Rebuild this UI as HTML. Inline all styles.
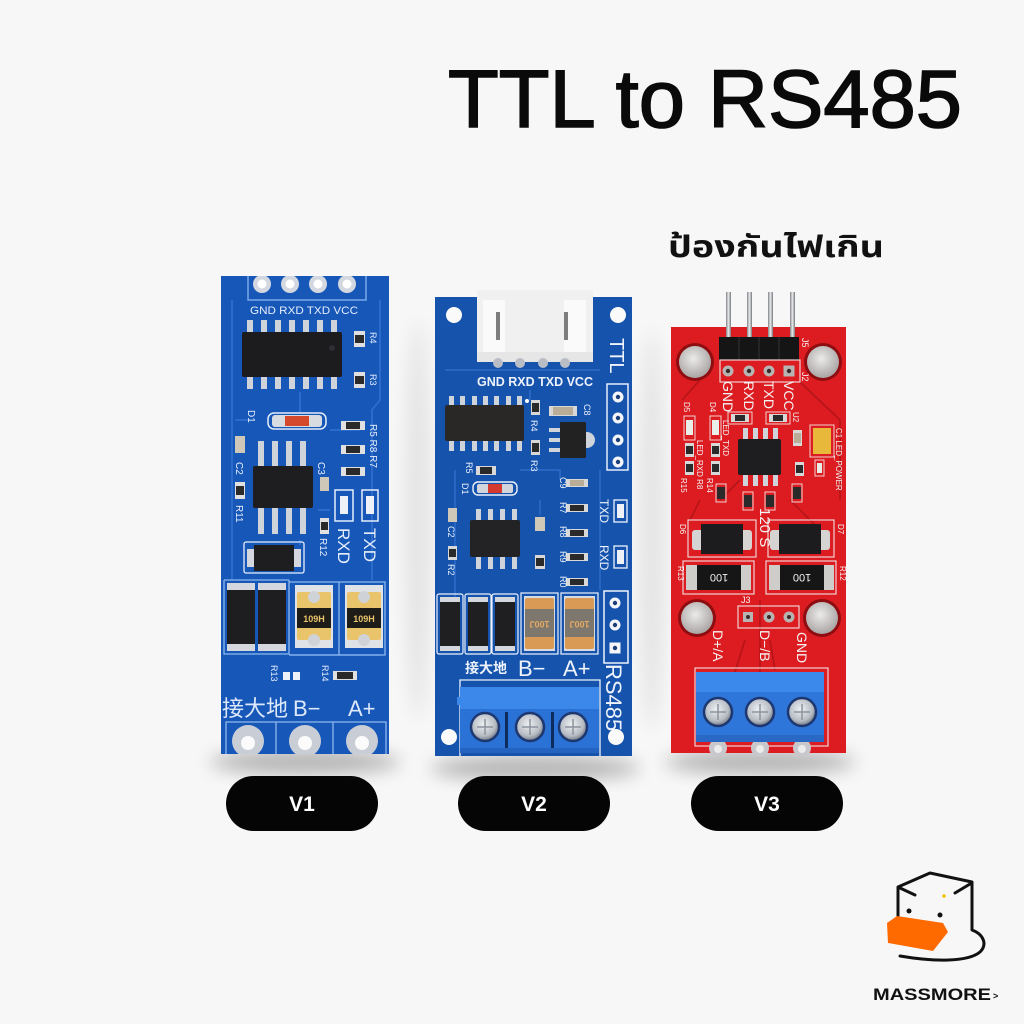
<!DOCTYPE html>
<html><head><meta charset="utf-8"><style>
html,body{margin:0;padding:0;background:#f7f7f7;}
svg{display:block;}
text{font-family:"Liberation Sans","Noto Sans CJK SC","Noto Sans Thai",sans-serif;}
</style></head><body>
<svg width="1024" height="1024" viewBox="0 0 1024 1024" xmlns="http://www.w3.org/2000/svg">
<defs>
<filter id="blur" x="-50%" y="-50%" width="200%" height="200%"><feGaussianBlur stdDeviation="9"/></filter>
<radialGradient id="silver" cx="40%" cy="35%" r="70%"><stop offset="0" stop-color="#f6f6f6"/><stop offset="1" stop-color="#a4a8ae"/></radialGradient>
<radialGradient id="screw" cx="45%" cy="40%" r="60%"><stop offset="0" stop-color="#eef0f2"/><stop offset="0.7" stop-color="#b7bcc4"/><stop offset="1" stop-color="#6f7680"/></radialGradient>
<radialGradient id="hole" cx="45%" cy="40%" r="60%"><stop offset="0" stop-color="#ecebea"/><stop offset="1" stop-color="#a9a5a4"/></radialGradient>
<linearGradient id="pin" x1="0" x2="1" y1="0" y2="0"><stop offset="0" stop-color="#7e8288"/><stop offset="0.5" stop-color="#ececec"/><stop offset="1" stop-color="#72767c"/></linearGradient>
<clipPath id="v1clip"><rect x="221" y="276" width="168" height="478"/></clipPath>
</defs>
<rect width="1024" height="1024" fill="#f7f7f7"/>

<!-- shadows -->
<ellipse cx="305" cy="762" rx="95" ry="12" fill="#000" opacity="0.28" filter="url(#blur)"/>
<ellipse cx="535" cy="768" rx="105" ry="12" fill="#000" opacity="0.28" filter="url(#blur)"/>
<ellipse cx="760" cy="762" rx="95" ry="12" fill="#000" opacity="0.28" filter="url(#blur)"/>
<ellipse cx="418" cy="520" rx="14" ry="200" fill="#000" opacity="0.07" filter="url(#blur)"/>
<ellipse cx="652" cy="530" rx="14" ry="200" fill="#000" opacity="0.07" filter="url(#blur)"/>

<!-- Title -->
<text x="448" y="127" font-size="82" fill="#0a0a0a" stroke="#0a0a0a" stroke-width="1.6" textLength="514" lengthAdjust="spacingAndGlyphs">TTL to RS485</text>
<text x="668" y="257" font-size="30" font-weight="bold" fill="#111" textLength="216" lengthAdjust="spacingAndGlyphs">ป้องกันไฟเกิน</text>

<!-- ============ V1 ============ -->
<g clip-path="url(#v1clip)">
<rect x="221" y="276" width="168" height="478" fill="#1757b8"/>
<g stroke="#2a6bcb" stroke-width="2" fill="none">
<path d="M232 300 V580"/><path d="M380 300 V400 L372 410 V580"/><path d="M300 392 V412"/>
<path d="M330 430 H360"/><path d="M250 420 H235"/><path d="M318 510 H330"/>
<path d="M300 540 V545"/><path d="M290 655 H380"/>
</g>
<path d="M248 276 V300 H366 V276" stroke="#78aaea" stroke-width="1.5" fill="none"/>
<g fill="#d3d8e0"><circle cx="262" cy="284" r="9"/><circle cx="290" cy="284" r="9"/><circle cx="318" cy="284" r="9"/><circle cx="347" cy="284" r="9"/></g>
<g fill="#fff"><circle cx="262" cy="284" r="4.5"/><circle cx="290" cy="284" r="4.5"/><circle cx="318" cy="284" r="4.5"/><circle cx="347" cy="284" r="4.5"/></g>
<text x="304" y="314" font-size="11" fill="#e6eefc" text-anchor="middle" textLength="108" lengthAdjust="spacingAndGlyphs">GND RXD TXD VCC</text>
<!-- SOIC14 -->
<g fill="#cfd3da">
<rect x="247" y="320" width="6" height="13"/><rect x="261" y="320" width="6" height="13"/><rect x="275" y="320" width="6" height="13"/><rect x="289" y="320" width="6" height="13"/><rect x="303" y="320" width="6" height="13"/><rect x="317" y="320" width="6" height="13"/><rect x="331" y="320" width="6" height="13"/>
<rect x="247" y="376" width="6" height="13"/><rect x="261" y="376" width="6" height="13"/><rect x="275" y="376" width="6" height="13"/><rect x="289" y="376" width="6" height="13"/><rect x="303" y="376" width="6" height="13"/><rect x="317" y="376" width="6" height="13"/><rect x="331" y="376" width="6" height="13"/>
</g>
<rect x="242" y="332" width="100" height="45" rx="2" fill="#1c1c1e"/>
<circle cx="332" cy="348" r="3" fill="#2f2f33"/>
<!-- R4 R3 -->
<rect x="354" y="331" width="11" height="16" fill="#e0e0e0"/><rect x="355" y="335" width="9" height="8" fill="#2a2a2a"/>
<rect x="354" y="372" width="11" height="16" fill="#e0e0e0"/><rect x="355" y="376" width="9" height="8" fill="#2a2a2a"/>
<text x="370" y="332" font-size="9" fill="#e6eefc" transform="rotate(90 370 332)">R4</text>
<text x="370" y="374" font-size="9" fill="#e6eefc" transform="rotate(90 370 374)">R3</text>
<!-- D1 -->
<rect x="268" y="413" width="58" height="16" rx="6" fill="none" stroke="#e6eefc" stroke-width="1.5"/>
<rect x="272" y="415" width="50" height="12" rx="3" fill="#d8dbe0"/>
<rect x="285" y="416" width="24" height="10" fill="#d4482c"/>
<text x="248" y="410" font-size="10" fill="#e6eefc" transform="rotate(90 248 410)">D1</text>
<!-- R5 R8 R7 -->
<rect x="341" y="421" width="24" height="9" fill="#e0e0e0"/><rect x="346" y="422" width="14" height="7" fill="#2a2a2a"/>
<rect x="341" y="445" width="24" height="9" fill="#e0e0e0"/><rect x="346" y="446" width="14" height="7" fill="#2a2a2a"/>
<rect x="341" y="467" width="24" height="9" fill="#e0e0e0"/><rect x="346" y="468" width="14" height="7" fill="#2a2a2a"/>
<text x="370" y="424" font-size="10" fill="#e6eefc" transform="rotate(90 370 424)">R5 R8 R7</text>
<!-- C2 R11 -->
<rect x="235" y="436" width="10" height="17" fill="#cfc7b8"/>
<rect x="235" y="482" width="10" height="17" fill="#e0e0e0"/><rect x="236" y="486" width="8" height="9" fill="#2a2a2a"/>
<text x="236" y="462" font-size="10" fill="#e6eefc" transform="rotate(90 236 462)">C2</text>
<text x="236" y="505" font-size="10" fill="#e6eefc" transform="rotate(90 236 505)">R11</text>
<!-- SOIC8 -->
<g fill="#cfd3da">
<rect x="258" y="441" width="6" height="26"/><rect x="272" y="441" width="6" height="26"/><rect x="286" y="441" width="6" height="26"/><rect x="300" y="441" width="6" height="26"/>
<rect x="258" y="506" width="6" height="28"/><rect x="272" y="506" width="6" height="28"/><rect x="286" y="506" width="6" height="28"/><rect x="300" y="506" width="6" height="28"/>
</g>
<rect x="253" y="466" width="60" height="42" rx="2" fill="#1e1e20"/>
<!-- C3 R12 -->
<rect x="320" y="477" width="9" height="14" fill="#cfc7b8"/>
<text x="318" y="462" font-size="10" fill="#e6eefc" transform="rotate(90 318 462)">C3</text>
<rect x="320" y="518" width="9" height="16" fill="#e0e0e0"/><rect x="321" y="522" width="7" height="8" fill="#2a2a2a"/>
<text x="320" y="538" font-size="10" fill="#e6eefc" transform="rotate(90 320 538)">R12</text>
<!-- LEDs -->
<rect x="335" y="490" width="18" height="31" fill="none" stroke="#e6eefc" stroke-width="1.5"/>
<rect x="362" y="490" width="16" height="31" fill="none" stroke="#e6eefc" stroke-width="1.5"/>
<rect x="340" y="496" width="8" height="18" fill="#eef2f8"/><rect x="366" y="496" width="8" height="18" fill="#eef2f8"/>
<text x="338" y="528" font-size="17" fill="#e6eefc" transform="rotate(90 338 528)">RXD</text>
<text x="364" y="528" font-size="17" fill="#e6eefc" transform="rotate(90 364 528)">TXD</text>
<!-- horizontal diode -->
<rect x="244" y="542" width="60" height="31" rx="2" fill="none" stroke="#e6eefc" stroke-width="1.3"/>
<rect x="247" y="549" width="54" height="18" fill="#d4d8de"/>
<rect x="254" y="545" width="40" height="26" fill="#1e1e20"/>
<!-- bottom row outline -->
<path d="M224 580 H289 M224 580 V654 H289 V580 M289 582 H339 V655 H289 M339 582 H385 V655 H339" stroke="#8fb8ee" stroke-width="1.3" fill="none"/>
<!-- vertical diodes -->
<rect x="227" y="583" width="28" height="68" fill="#d4d8de"/><rect x="227" y="590" width="28" height="54" fill="#1e1e20"/>
<rect x="258" y="583" width="28" height="68" fill="#d4d8de"/><rect x="258" y="590" width="28" height="54" fill="#1e1e20"/>
<!-- fuses -->
<rect x="295" y="585" width="38" height="63" fill="#dfe2e6"/>
<rect x="297" y="592" width="34" height="48" rx="2" fill="#e9c46a"/>
<circle cx="314" cy="597" r="6" fill="#cfd2d6"/><circle cx="314" cy="640" r="6" fill="#cfd2d6"/>
<rect x="297" y="608" width="34" height="20" fill="#1e1c18"/>
<text x="314" y="622" font-size="9" font-weight="bold" fill="#e9c46a" text-anchor="middle">109H</text>
<rect x="345" y="585" width="38" height="63" fill="#dfe2e6"/>
<rect x="347" y="592" width="34" height="48" rx="2" fill="#e9c46a"/>
<circle cx="364" cy="597" r="6" fill="#cfd2d6"/><circle cx="364" cy="640" r="6" fill="#cfd2d6"/>
<rect x="347" y="608" width="34" height="20" fill="#1e1c18"/>
<text x="364" y="622" font-size="9" font-weight="bold" fill="#e9c46a" text-anchor="middle">109H</text>
<!-- R13 R14 -->
<text x="271" y="665" font-size="9" fill="#e6eefc" transform="rotate(90 271 665)">R13</text>
<text x="322" y="665" font-size="9" fill="#e6eefc" transform="rotate(90 322 665)">R14</text>
<rect x="283" y="672" width="7" height="8" fill="#eef2f8"/><rect x="293" y="672" width="7" height="8" fill="#eef2f8"/>
<rect x="333" y="671" width="24" height="9" fill="#e0e0e0"/><rect x="337" y="672" width="16" height="7" fill="#2a2a2a"/>
<!-- labels -->
<text x="222" y="716" font-size="22" fill="#dde8fb">接大地</text>
<text x="293" y="716" font-size="22" fill="#dde8fb">B−</text>
<text x="348" y="716" font-size="22" fill="#dde8fb">A+</text>
<path d="M226 754 V722 H386 V754 M276 722 V754 M333 722 V754" stroke="#8fb8ee" stroke-width="1.3" fill="none"/>
<g fill="#c9ced6"><circle cx="248" cy="741" r="16"/><circle cx="305" cy="741" r="16"/><circle cx="362" cy="741" r="16"/></g>
<g fill="#fbfbfb"><circle cx="248" cy="743" r="7"/><circle cx="305" cy="743" r="7"/><circle cx="362" cy="743" r="7"/></g>
</g>

<!-- ============ V2 ============ -->
<g>
<rect x="435" y="297" width="197" height="459" fill="#1553ad"/>
<g stroke="#2866c4" stroke-width="2" fill="none">
<path d="M445 370 H600"/><path d="M530 390 V400"/><path d="M455 470 V600"/><path d="M600 470 V590"/><path d="M520 470 H560 V480"/><path d="M540 500 V515"/>
</g>
<g fill="#fafafa"><circle cx="454" cy="315" r="8"/><circle cx="618" cy="315" r="8"/><circle cx="449" cy="737" r="8"/><circle cx="616" cy="737" r="8"/></g>
<!-- connector -->
<rect x="477" y="290" width="116" height="72" fill="#f0f0f0"/>
<rect x="483" y="300" width="22" height="52" fill="#fafafa"/><rect x="564" y="300" width="22" height="52" fill="#fafafa"/>
<rect x="496" y="312" width="4" height="28" fill="#7d7d7d"/><rect x="564" y="312" width="4" height="28" fill="#7d7d7d"/>
<rect x="477" y="352" width="116" height="10" fill="#e6e6e6"/>
<g fill="#b9bec6"><circle cx="498" cy="363" r="5"/><circle cx="520" cy="363" r="5"/><circle cx="543" cy="363" r="5"/><circle cx="565" cy="363" r="5"/></g>
<text x="535" y="386" font-size="13" font-weight="bold" fill="#eef3fc" text-anchor="middle" textLength="116" lengthAdjust="spacingAndGlyphs">GND RXD TXD VCC</text>
<text x="610" y="338" font-size="20" fill="#eef3fc" transform="rotate(90 610 338)">TTL</text>
<rect x="607" y="384" width="21" height="86" fill="none" stroke="#e6eefc" stroke-width="1.5"/>
<g fill="#f4f6fa"><circle cx="618" cy="397" r="5.5"/><circle cx="618" cy="418" r="5.5"/><circle cx="618" cy="440" r="5.5"/><circle cx="618" cy="462" r="5.5"/></g>
<g fill="#1c3f78"><circle cx="618" cy="397" r="2.2"/><circle cx="618" cy="418" r="2.2"/><circle cx="618" cy="440" r="2.2"/><circle cx="618" cy="462" r="2.2"/></g>
<!-- SOIC14 -->
<g fill="#cfd3da">
<rect x="449" y="396" width="5" height="10"/><rect x="460" y="396" width="5" height="10"/><rect x="472" y="396" width="5" height="10"/><rect x="483" y="396" width="5" height="10"/><rect x="494" y="396" width="5" height="10"/><rect x="506" y="396" width="5" height="10"/><rect x="517" y="396" width="5" height="10"/>
<rect x="449" y="440" width="5" height="11"/><rect x="460" y="440" width="5" height="11"/><rect x="472" y="440" width="5" height="11"/><rect x="483" y="440" width="5" height="11"/><rect x="494" y="440" width="5" height="11"/><rect x="506" y="440" width="5" height="11"/><rect x="517" y="440" width="5" height="11"/>
</g>
<rect x="445" y="405" width="79" height="36" rx="2" fill="#2a2826"/>
<circle cx="527" cy="401" r="2" fill="#fff"/>
<!-- R4 R3 -->
<rect x="531" y="400" width="9" height="15" fill="#d8d8d8"/><rect x="532" y="403" width="7" height="9" fill="#2a2a2a"/>
<rect x="531" y="440" width="9" height="15" fill="#d8d8d8"/><rect x="532" y="443" width="7" height="9" fill="#2a2a2a"/>
<text x="531" y="420" font-size="9" fill="#eef3fc" transform="rotate(90 531 420)">R4</text>
<text x="531" y="460" font-size="9" fill="#eef3fc" transform="rotate(90 531 460)">R3</text>
<!-- C8 -->
<rect x="549" y="406" width="28" height="10" fill="#d8d8d8"/><rect x="553" y="407" width="20" height="8" fill="#b9ad98"/>
<text x="584" y="404" font-size="9" fill="#eef3fc" transform="rotate(90 584 404)">C8</text>
<!-- SOT223 -->
<g fill="#cfd3da"><rect x="549" y="428" width="12" height="4"/><rect x="549" y="438" width="12" height="4"/><rect x="549" y="448" width="12" height="4"/></g>
<circle cx="587" cy="440" r="8" fill="#cfd3da"/>
<rect x="560" y="422" width="26" height="36" rx="1" fill="#222"/>
<!-- R5 D1 -->
<rect x="476" y="466" width="20" height="9" fill="#d8d8d8"/><rect x="480" y="467" width="12" height="7" fill="#2a2a2a"/>
<text x="466" y="462" font-size="9" fill="#eef3fc" transform="rotate(90 466 462)">R5</text>
<rect x="473" y="482" width="44" height="13" rx="5" fill="none" stroke="#eef3fc" stroke-width="1.4"/>
<rect x="477" y="484" width="36" height="9" rx="2" fill="#d2d6dc"/>
<rect x="488" y="484" width="14" height="9" fill="#d63a2e"/>
<text x="462" y="483" font-size="9" fill="#eef3fc" transform="rotate(90 462 483)">D1</text>
<!-- right column resistors -->
<g>
<rect x="566" y="479" width="22" height="8" fill="#d8d8d8"/><rect x="570" y="480" width="14" height="6" fill="#b9ad98"/>
<rect x="566" y="504" width="22" height="8" fill="#d8d8d8"/><rect x="570" y="505" width="14" height="6" fill="#2a2a2a"/>
<rect x="566" y="529" width="22" height="8" fill="#d8d8d8"/><rect x="570" y="530" width="14" height="6" fill="#2a2a2a"/>
<rect x="566" y="553" width="22" height="8" fill="#d8d8d8"/><rect x="570" y="554" width="14" height="6" fill="#2a2a2a"/>
<rect x="566" y="578" width="22" height="8" fill="#d8d8d8"/><rect x="570" y="579" width="14" height="6" fill="#2a2a2a"/>
</g>
<text x="560" y="477" font-size="9" fill="#eef3fc" transform="rotate(90 560 477)">C9</text>
<text x="560" y="502" font-size="9" fill="#eef3fc" transform="rotate(90 560 502)">R7</text>
<text x="560" y="526" font-size="9" fill="#eef3fc" transform="rotate(90 560 526)">R8</text>
<text x="560" y="551" font-size="9" fill="#eef3fc" transform="rotate(90 560 551)">R9</text>
<text x="560" y="576" font-size="9" fill="#eef3fc" transform="rotate(90 560 576)">R0</text>
<!-- LEDs right -->
<rect x="614" y="500" width="13" height="22" fill="none" stroke="#eef3fc" stroke-width="1.3"/><rect x="617" y="504" width="7" height="14" fill="#eef2f8"/>
<rect x="614" y="546" width="13" height="22" fill="none" stroke="#eef3fc" stroke-width="1.3"/><rect x="617" y="550" width="7" height="14" fill="#eef2f8"/>
<text x="600" y="499" font-size="12" fill="#eef3fc" transform="rotate(90 600 499)">TXD</text>
<text x="600" y="545" font-size="12" fill="#eef3fc" transform="rotate(90 600 545)">RXD</text>
<!-- C2 R2 C1 R1 -->
<rect x="448" y="508" width="9" height="14" fill="#cfc7b8"/>
<rect x="448" y="546" width="9" height="14" fill="#d8d8d8"/><rect x="449" y="549" width="7" height="8" fill="#2a2a2a"/>
<text x="448" y="526" font-size="9" fill="#eef3fc" transform="rotate(90 448 526)">C2</text>
<text x="448" y="564" font-size="9" fill="#eef3fc" transform="rotate(90 448 564)">R2</text>
<rect x="535" y="517" width="10" height="14" fill="#cfc7b8"/>
<rect x="535" y="555" width="10" height="14" fill="#d8d8d8"/><rect x="536" y="558" width="8" height="8" fill="#2a2a2a"/>
<!-- SOIC8 -->
<g fill="#cfd3da">
<rect x="476" y="509" width="5" height="12"/><rect x="488" y="509" width="5" height="12"/><rect x="500" y="509" width="5" height="12"/><rect x="512" y="509" width="5" height="12"/>
<rect x="476" y="556" width="5" height="13"/><rect x="488" y="556" width="5" height="13"/><rect x="500" y="556" width="5" height="13"/><rect x="512" y="556" width="5" height="13"/>
</g>
<rect x="470" y="520" width="50" height="37" rx="2" fill="#232325"/>
<!-- RS485 header -->
<rect x="604" y="591" width="24" height="72" fill="none" stroke="#eef3fc" stroke-width="1.5"/>
<g fill="#f4f6fa"><circle cx="615" cy="603" r="5.5"/><circle cx="615" cy="625" r="5.5"/><rect x="609.5" y="642.5" width="11" height="11"/></g>
<g fill="#1c3f78"><circle cx="615" cy="603" r="2.2"/><circle cx="615" cy="625" r="2.2"/><circle cx="615" cy="648" r="2.2"/></g>
<text x="606" y="664" font-size="22" fill="#eef3fc" transform="rotate(90 606 664)">RS485</text>
<!-- diodes -->
<rect x="437" y="594" width="26" height="60" rx="2" fill="none" stroke="#eef3fc" stroke-width="1.2"/>
<rect x="465" y="594" width="26" height="60" rx="2" fill="none" stroke="#eef3fc" stroke-width="1.2"/>
<rect x="492" y="594" width="26" height="60" rx="2" fill="none" stroke="#eef3fc" stroke-width="1.2"/>
<rect x="440" y="597" width="20" height="54" fill="#d4d8de"/><rect x="440" y="602" width="20" height="44" fill="#1f1f21"/>
<rect x="468" y="597" width="20" height="54" fill="#d4d8de"/><rect x="468" y="602" width="20" height="44" fill="#1f1f21"/>
<rect x="495" y="597" width="20" height="54" fill="#d4d8de"/><rect x="495" y="602" width="20" height="44" fill="#1f1f21"/>
<!-- fuses -->
<rect x="521" y="593" width="37" height="61" fill="none" stroke="#eef3fc" stroke-width="1.2"/>
<rect x="561" y="593" width="37" height="61" fill="none" stroke="#eef3fc" stroke-width="1.2"/>
<rect x="524" y="596" width="31" height="55" fill="#d8dbe0"/>
<rect x="525" y="598" width="29" height="51" rx="2" fill="#d99a56"/>
<rect x="525" y="609" width="29" height="28" fill="#7e776d"/>
<text x="539.5" y="627" font-size="9" font-weight="bold" fill="#e2a864" text-anchor="middle" transform="rotate(180 539.5 624)">100J</text>
<rect x="564" y="596" width="31" height="55" fill="#d8dbe0"/>
<rect x="565" y="598" width="29" height="51" rx="2" fill="#d99a56"/>
<rect x="565" y="609" width="29" height="28" fill="#7e776d"/>
<text x="579.5" y="627" font-size="9" font-weight="bold" fill="#e2a864" text-anchor="middle" transform="rotate(180 579.5 624)">100J</text>
<!-- labels -->
<text x="465" y="673" font-size="14" font-weight="bold" fill="#eef3fc">接大地</text>
<text x="518" y="676" font-size="22" fill="#eef3fc">B−</text>
<text x="563" y="676" font-size="22" fill="#eef3fc">A+</text>
<!-- terminal block -->
<path d="M460 756 V680 H600 V756" fill="none" stroke="#eef3fc" stroke-width="1.3"/>
<rect x="460" y="687" width="139" height="66" fill="#2b72d6"/>
<rect x="460" y="687" width="139" height="22" fill="#3b88ea"/>
<rect x="457" y="697" width="5" height="8" fill="#3b88ea"/>
<rect x="460" y="748" width="139" height="5" fill="#2463c0"/>
<rect x="505" y="712" width="3" height="36" fill="#0e2b5e"/><rect x="551" y="712" width="3" height="36" fill="#0e2b5e"/>
<g stroke="#1d3770" stroke-width="2.5" fill="url(#screw)"><circle cx="485" cy="727" r="14"/><circle cx="530" cy="727" r="14"/><circle cx="573" cy="727" r="14"/></g>
<g stroke="#8d949e" stroke-width="1.5"><path d="M477 727 H493 M485 719 V735"/><path d="M522 727 H538 M530 719 V735"/><path d="M565 727 H581 M573 719 V735"/></g>
</g>

<!-- ============ V3 ============ -->
<g>
<rect x="671" y="327" width="175" height="426" fill="#dc1c20"/>
<g stroke="#b51418" stroke-width="1.6" fill="none">
<path d="M800 382 L840 420 V500"/><path d="M682 400 L700 380"/><path d="M790 500 L820 530"/><path d="M700 500 L690 520"/>
<path d="M760 600 V680"/><path d="M740 480 L720 500"/><path d="M770 640 L775 670"/><path d="M745 640 L735 672"/>
</g>
<!-- pins -->
<rect x="726" y="292" width="5" height="50" fill="url(#pin)"/><rect x="747" y="292" width="5" height="50" fill="url(#pin)"/><rect x="768" y="292" width="5" height="50" fill="url(#pin)"/><rect x="790" y="292" width="5" height="50" fill="url(#pin)"/>
<rect x="719" y="337" width="80" height="23" fill="#151515"/>
<path d="M739 337 V360 M759 337 V360 M779 337 V360" stroke="#333" stroke-width="1"/>
<text x="802" y="338" font-size="9" fill="#f2f2f2" transform="rotate(90 802 338)">J5</text>
<text x="802" y="372" font-size="9" fill="#f2f2f2" transform="rotate(90 802 372)">J2</text>
<rect x="720" y="360" width="80" height="22" fill="none" stroke="#f0d0d0" stroke-width="1.2"/>
<g fill="#b9b4b4"><circle cx="728" cy="371" r="5.5"/><circle cx="749" cy="371" r="5.5"/><circle cx="769" cy="371" r="5.5"/><rect x="783.5" y="365.5" width="11" height="11"/></g>
<g fill="#3a2a2a"><circle cx="728" cy="371" r="2.2"/><circle cx="749" cy="371" r="2.2"/><circle cx="769" cy="371" r="2.2"/><circle cx="789" cy="371" r="2.2"/></g>
<g fill="#8e0d10"><circle cx="695" cy="362" r="19"/><circle cx="823" cy="362" r="19"/><circle cx="697" cy="618" r="19"/><circle cx="822" cy="618" r="19"/></g>
<g fill="url(#hole)"><circle cx="695" cy="362" r="16"/><circle cx="823" cy="362" r="16"/><circle cx="697" cy="618" r="16"/><circle cx="822" cy="618" r="16"/></g>
<g font-size="14" fill="#f4f4f4">
<text x="723" y="381" transform="rotate(90 723 381)">GND</text>
<text x="744" y="381" transform="rotate(90 744 381)">RXD</text>
<text x="764" y="381" transform="rotate(90 764 381)">TXD</text>
<text x="784" y="381" transform="rotate(90 784 381)">VCC</text>
</g>
<!-- left LEDs/resistors -->
<rect x="684" y="416" width="11" height="24" fill="none" stroke="#f0d0d0" stroke-width="1"/><rect x="686" y="420" width="7" height="15" fill="#e8eee8"/>
<rect x="710" y="416" width="11" height="24" fill="none" stroke="#f0d0d0" stroke-width="1"/><rect x="712" y="420" width="7" height="15" fill="#e8eee8"/>
<rect x="685" y="443" width="9" height="14" fill="#d8d8d8"/><rect x="686" y="446" width="7" height="8" fill="#2a2a2a"/>
<rect x="685" y="461" width="9" height="14" fill="#d8d8d8"/><rect x="686" y="464" width="7" height="8" fill="#2a2a2a"/>
<rect x="711" y="443" width="9" height="14" fill="#d8d8d8"/><rect x="712" y="446" width="7" height="8" fill="#2a2a2a"/>
<rect x="711" y="461" width="9" height="14" fill="#d8d8d8"/><rect x="712" y="464" width="7" height="8" fill="#2a2a2a"/>
<text x="684" y="402" font-size="8" fill="#f4f4f4" transform="rotate(90 684 402)">D5</text>
<text x="710" y="402" font-size="8" fill="#f4f4f4" transform="rotate(90 710 402)">D4</text>
<text x="697" y="440" font-size="8" fill="#f4f4f4" transform="rotate(90 697 440)">LED_RXD R8</text>
<text x="723" y="420" font-size="8" fill="#f4f4f4" transform="rotate(90 723 420)">LED_TXD</text>
<text x="681" y="478" font-size="8" fill="#f4f4f4" transform="rotate(90 681 478)">R15</text>
<text x="707" y="478" font-size="8" fill="#f4f4f4" transform="rotate(90 707 478)">R14</text>
<!-- R2 R1 -->
<rect x="728" y="412" width="24" height="12" fill="none" stroke="#f0d0d0" stroke-width="1"/><rect x="731" y="414" width="18" height="8" fill="#d8d8d8"/><rect x="735" y="415" width="10" height="6" fill="#2a2a2a"/>
<rect x="766" y="412" width="24" height="12" fill="none" stroke="#f0d0d0" stroke-width="1"/><rect x="769" y="414" width="18" height="8" fill="#d8d8d8"/><rect x="773" y="415" width="10" height="6" fill="#2a2a2a"/>
<!-- SOIC8 -->
<g fill="#cfd3da">
<rect x="743" y="428" width="5" height="12"/><rect x="753" y="428" width="5" height="12"/><rect x="763" y="428" width="5" height="12"/><rect x="773" y="428" width="5" height="12"/>
<rect x="743" y="474" width="5" height="12"/><rect x="753" y="474" width="5" height="12"/><rect x="763" y="474" width="5" height="12"/><rect x="773" y="474" width="5" height="12"/>
</g>
<rect x="738" y="439" width="43" height="36" rx="2" fill="#1e1e20"/>
<text x="793" y="412" font-size="8" fill="#f4f4f4" transform="rotate(90 793 412)">U2</text>
<rect x="793" y="430" width="9" height="16" fill="#d8d8d8"/><rect x="794" y="433" width="7" height="10" fill="#b9ad98"/>
<rect x="795" y="462" width="9" height="14" fill="#d8d8d8"/><rect x="796" y="465" width="7" height="8" fill="#2a2a2a"/>
<!-- tantalum -->
<rect x="810" y="425" width="24" height="32" fill="none" stroke="#f0d0d0" stroke-width="1"/>
<rect x="813" y="428" width="18" height="26" fill="#e7b83a"/>
<text x="836" y="428" font-size="8" fill="#f4f4f4" transform="rotate(90 836 428)">C1 LED_POWER</text>
<rect x="815" y="460" width="9" height="16" fill="none" stroke="#f0d0d0" stroke-width="1"/><rect x="817" y="463" width="5" height="10" fill="#e8eee8"/>
<!-- R4 R16 R17 R5 -->
<rect x="716" y="484" width="10" height="18" fill="none" stroke="#f0d0d0" stroke-width="1"/><rect x="717" y="487" width="8" height="12" fill="#2a2a2a"/>
<rect x="743" y="492" width="10" height="18" fill="none" stroke="#f0d0d0" stroke-width="1"/><rect x="744" y="495" width="8" height="12" fill="#2a2a2a"/>
<rect x="765" y="492" width="10" height="18" fill="none" stroke="#f0d0d0" stroke-width="1"/><rect x="766" y="495" width="8" height="12" fill="#2a2a2a"/>
<rect x="792" y="484" width="10" height="18" fill="none" stroke="#f0d0d0" stroke-width="1"/><rect x="793" y="487" width="8" height="12" fill="#2a2a2a"/>
<!-- diodes -->
<rect x="688" y="520" width="68" height="37" fill="none" stroke="#f0d0d0" stroke-width="1.2"/>
<rect x="768" y="520" width="66" height="37" fill="none" stroke="#f0d0d0" stroke-width="1.2"/>
<rect x="692" y="530" width="60" height="20" rx="3" fill="#d6d4d2"/><rect x="701" y="524" width="42" height="30" fill="#1c1c1e"/>
<rect x="770" y="530" width="60" height="20" rx="3" fill="#d6d4d2"/><rect x="779" y="524" width="42" height="30" fill="#1c1c1e"/>
<text x="760" y="508" font-size="15" fill="#f4f4f4" transform="rotate(90 760 508)">120 S</text>
<text x="680" y="524" font-size="8" fill="#f4f4f4" transform="rotate(90 680 524)">D6</text>
<text x="838" y="524" font-size="8" fill="#f4f4f4" transform="rotate(90 838 524)">D7</text>
<!-- resistors 100 -->
<rect x="683" y="561" width="71" height="33" fill="none" stroke="#f0d0d0" stroke-width="1.2"/>
<rect x="766" y="561" width="70" height="33" fill="none" stroke="#f0d0d0" stroke-width="1.2"/>
<rect x="686" y="565" width="65" height="25" fill="#cfcdca"/><rect x="697" y="565" width="44" height="25" fill="#161616"/>
<rect x="769" y="565" width="65" height="25" fill="#cfcdca"/><rect x="780" y="565" width="44" height="25" fill="#161616"/>
<text x="719" y="582" font-size="11" fill="#f2f2f2" text-anchor="middle" transform="rotate(180 719 578)">100</text>
<text x="802" y="582" font-size="11" fill="#f2f2f2" text-anchor="middle" transform="rotate(180 802 578)">100</text>
<text x="678" y="566" font-size="8" fill="#f4f4f4" transform="rotate(90 678 566)">R13</text>
<text x="840" y="566" font-size="8" fill="#f4f4f4" transform="rotate(90 840 566)">R12</text>
<!-- J3 -->
<text x="741" y="603" font-size="9" fill="#f4f4f4">J3</text>
<rect x="738" y="606" width="61" height="22" fill="none" stroke="#f0d0d0" stroke-width="1.2"/>
<g fill="#b9b4b4"><rect x="743" y="612" width="10" height="10"/><circle cx="769" cy="617" r="5.5"/><circle cx="789" cy="617" r="5.5"/></g>
<g fill="#3a2a2a"><circle cx="748" cy="617" r="2"/><circle cx="769" cy="617" r="2"/><circle cx="789" cy="617" r="2"/></g>
<g font-size="14" fill="#f4f4f4">
<text x="713" y="630" transform="rotate(90 713 630)">D+/A</text>
<text x="760" y="630" transform="rotate(90 760 630)">D−/B</text>
<text x="797" y="632" transform="rotate(90 797 632)">GND</text>
</g>
<!-- terminal -->
<rect x="695" y="668" width="133" height="78" fill="none" stroke="#f0d0d0" stroke-width="1.2"/>
<g fill="#c8c8cc"><circle cx="718" cy="748" r="9"/><circle cx="760" cy="748" r="9"/><circle cx="802" cy="748" r="9"/></g>
<g fill="#ececec"><circle cx="718" cy="749" r="4"/><circle cx="760" cy="749" r="4"/><circle cx="802" cy="749" r="4"/></g>
<rect x="696" y="672" width="128" height="70" fill="#2f76da"/>
<rect x="696" y="672" width="128" height="20" fill="#3c89ec"/>
<rect x="696" y="735" width="128" height="7" fill="#2a68c6"/>
<g stroke="#1d3770" stroke-width="2.5" fill="url(#screw)"><circle cx="718" cy="712" r="14"/><circle cx="760" cy="712" r="14"/><circle cx="802" cy="712" r="14"/></g>
<g stroke="#8d949e" stroke-width="1.5"><path d="M710 712 H726 M718 704 V720"/><path d="M752 712 H768 M760 704 V720"/><path d="M794 712 H810 M802 704 V720"/></g>
</g>

<!-- pills -->
<rect x="226" y="776" width="152" height="55" rx="27.5" fill="#050505"/>
<rect x="458" y="776" width="152" height="55" rx="27.5" fill="#050505"/>
<rect x="691" y="776" width="152" height="55" rx="27.5" fill="#050505"/>
<g font-size="21" font-weight="bold" fill="#fff" text-anchor="middle">
<text x="302" y="811">V1</text>
<text x="534" y="811">V2</text>
<text x="767" y="811">V3</text>
</g>

<!-- logo -->
<g fill="none" stroke="#111" stroke-width="3" stroke-linecap="round" stroke-linejoin="round">
<path d="M898 917 V887 L930 873 L972 882 V930 C983 934 988 944 980 952 C968 962 935 962 900 956"/>
<path d="M900 888 L915 895"/><path d="M955 893 L970 884"/>
</g>
<circle cx="909" cy="911" r="2.5" fill="#111"/><circle cx="940" cy="915" r="2.5" fill="#111"/>
<circle cx="944" cy="896" r="1.8" fill="#f2c200"/>
<polygon points="887,923 897,916 943,923 948,932 933,951 888,943" fill="#ff6a00"/>
<text x="873" y="1000" font-size="17" font-weight="bold" fill="#111" textLength="118" lengthAdjust="spacingAndGlyphs">MASSMORE</text>
<text x="993" y="999" font-size="9" font-weight="bold" fill="#111">&gt;</text>
</svg>
</body></html>
